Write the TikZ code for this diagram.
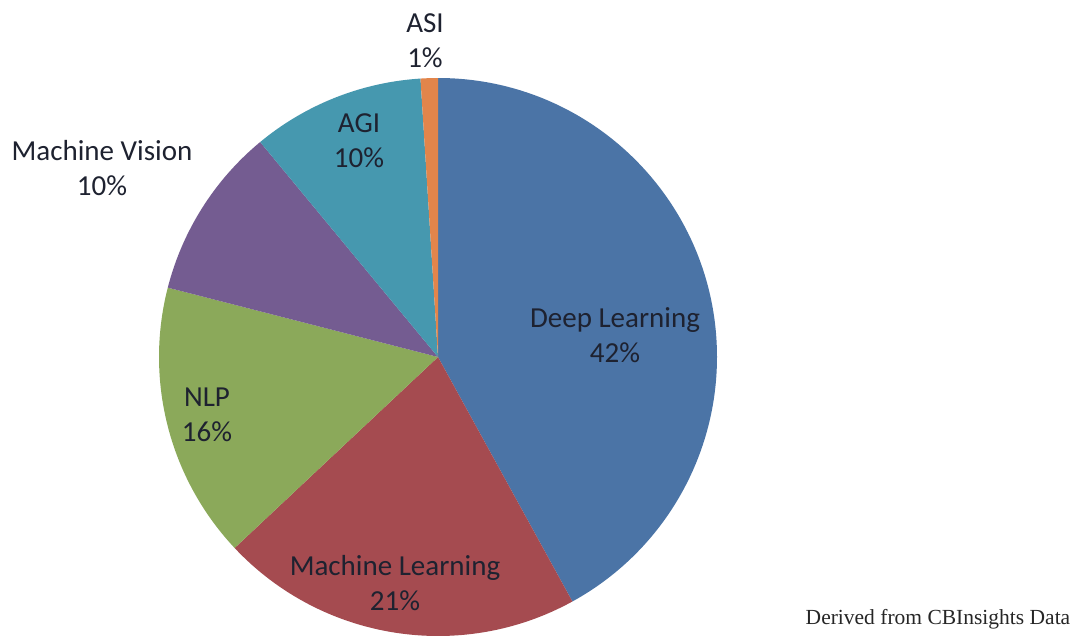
\documentclass[tikz,border=0pt]{standalone}
\usepackage{fontspec}
\setmainfont{Carlito}
\newfontfamily\notefont{Liberation Serif}
\definecolor{cDL}{HTML}{4B74A6}
\definecolor{cML}{HTML}{A54B50}
\definecolor{cNLP}{HTML}{8BA95A}
\definecolor{cMV}{HTML}{745C91}
\definecolor{cAGI}{HTML}{4698AF}
\definecolor{cASI}{HTML}{E2854B}
\definecolor{cTxt}{HTML}{1E2230}
\tikzset{
  slice/.style={draw=none},
  lbl/.style={inner sep=0pt, align=center, text=cTxt, font=\fontsize{29}{35}\selectfont},
  note/.style={inner sep=0pt, text=black!85, font=\notefont\fontsize{21.5}{25}\selectfont}
}
\begin{document}
\begin{tikzpicture}[x=1pt,y=1pt]
\useasboundingbox (0,-637) rectangle (1080,0);
\fill[white] (0,-637) rectangle (1080,0);
\coordinate (c) at (438,-357);
\def\R{279}
\fill[cDL]  (c) -- ++(90:\R)    arc[start angle=90,    end angle=-61.2,  radius=\R] -- cycle;
\fill[cML]  (c) -- ++(-61.2:\R) arc[start angle=-61.2, end angle=-136.8, radius=\R] -- cycle;
\fill[cNLP] (c) -- ++(-136.8:\R) arc[start angle=-136.8, end angle=-194.4, radius=\R] -- cycle;
\fill[cMV]  (c) -- ++(165.6:\R) arc[start angle=165.6, end angle=129.6, radius=\R] -- cycle;
\fill[cAGI] (c) -- ++(129.6:\R) arc[start angle=129.6, end angle=93.6, radius=\R] -- cycle;
\fill[cASI] (c) -- ++(93.6:\R)  arc[start angle=93.6,  end angle=90,    radius=\R] -- cycle;
\node[lbl] (dl)  at (615,-335) {Deep Learning\\42\%};
\node[lbl] (ml)  at (395,-583) {Machine Learning\\21\%};
\node[lbl] (nlp) at (207,-415) {NLP\\16\%};
\node[lbl] (mv)  at (102,-168) {Machine Vision\\10\%};
\node[lbl] (agi) at (359,-141) {AGI\\10\%};
\node[lbl] (asi) at (425,-41)  {ASI\\1\%};
\node[note] (src) at (938,-619) {Derived from CBInsights Data};
\end{tikzpicture}
\end{document}
